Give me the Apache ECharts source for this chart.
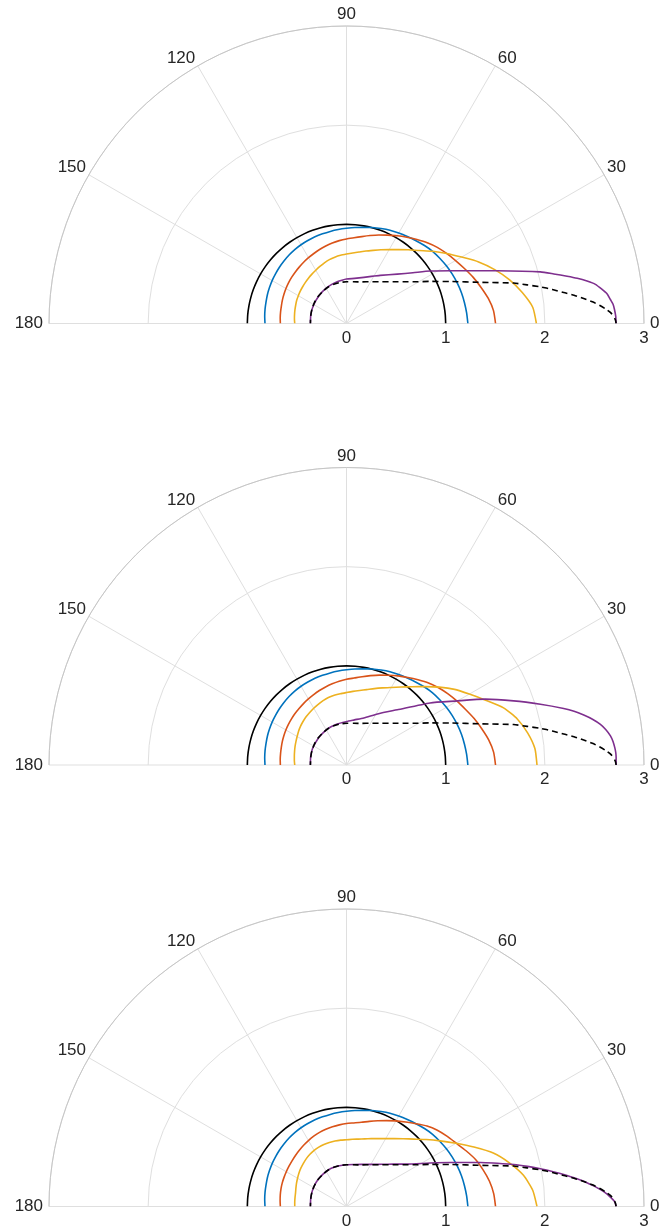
<!DOCTYPE html>
<html><head><meta charset="utf-8">
<script src="https://cdn.jsdelivr.net/npm/echarts@6/dist/echarts.min.js"></script>
<style>html,body{margin:0;padding:0;background:#fff}#c{width:672px;height:1228px}</style>
</head><body><div id="c"></div>
<script>
// ---- data (angle in degrees, radius) ----
const angleTickLabels = [0, 30, 60, 90, 120, 150, 180];
const radiusTickLabels = [0, 1, 2, 3];

// angles (every 5 degrees) shared by the smooth curves
const curveAngles = [0,5,10,15,20,25,30,35,40,45,50,55,60,65,70,75,80,85,90,95,100,105,110,115,120,125,130,135,140,145,150,155,160,165,170,175,180];

const blackR = [1,1,1,1,1,1,1,1,1,1,1,1,1,1,1,1,1,1,1,1,1,1,1,1,1,1,1,1,1,1,1,1,1,1,1,1,1];
const blueR  = [1.224,1.216,1.208,1.2,1.189,1.177,1.163,1.148,1.133,1.112,1.09,1.07,1.053,1.037,1.019,1.002,0.984,0.972,0.96,0.951,0.943,0.936,0.93,0.923,0.917,0.91,0.901,0.892,0.883,0.874,0.866,0.857,0.849,0.84,0.834,0.828,0.822];

const p1OrangeR = [1.503,1.488,1.452,1.405,1.36,1.312,1.27,1.232,1.195,1.152,1.105,1.062,1.022,0.983,0.95,0.918,0.89,0.868,0.853,0.839,0.825,0.809,0.794,0.779,0.766,0.754,0.742,0.732,0.723,0.714,0.705,0.696,0.688,0.68,0.675,0.671,0.667];
const p2OrangeR = [1.503,1.489,1.456,1.412,1.37,1.325,1.287,1.25,1.212,1.17,1.122,1.078,1.038,0.999,0.965,0.933,0.904,0.88,0.864,0.848,0.831,0.815,0.799,0.783,0.769,0.756,0.744,0.734,0.724,0.715,0.706,0.697,0.689,0.681,0.675,0.671,0.667];
const p3OrangeR = [1.503,1.49,1.464,1.426,1.385,1.33,1.277,1.236,1.196,1.148,1.09,1.04,0.997,0.955,0.92,0.889,0.862,0.846,0.837,0.826,0.816,0.806,0.795,0.782,0.768,0.754,0.74,0.728,0.717,0.708,0.701,0.695,0.69,0.684,0.678,0.672,0.667];

const p1YellowR = [1.915,1.885,1.80,1.703,1.59,1.47,1.34,1.232,1.133,1.04,0.97,0.909,0.86,0.82,0.785,0.757,0.732,0.714,0.70,0.69,0.679,0.667,0.651,0.635,0.62,0.608,0.597,0.586,0.577,0.569,0.561,0.554,0.545,0.538,0.532,0.527,0.522];
const p2YellowR = [1.921,1.907,1.856,1.785,1.685,1.547,1.43,1.33,1.222,1.118,1.03,0.96,0.903,0.858,0.82,0.787,0.763,0.745,0.731,0.722,0.714,0.705,0.69,0.675,0.661,0.647,0.634,0.62,0.606,0.591,0.575,0.562,0.552,0.542,0.534,0.528,0.522];
const p3YellowR = [1.921,1.885,1.812,1.70,1.575,1.418,1.275,1.153,1.05,0.961,0.892,0.836,0.79,0.756,0.728,0.706,0.69,0.68,0.673,0.672,0.671,0.669,0.666,0.661,0.653,0.643,0.63,0.615,0.601,0.586,0.57,0.556,0.543,0.532,0.527,0.524,0.522];

// curves with a sharp turn near 0 degrees: [angle, radius] pairs
const p1Purple = [[0,2.719],[1.5,2.716],[3,2.706],[4.13,2.695],[5.2,2.672],[6.51,2.644],[7.6,2.60],[8.94,2.541],[10,2.463],[11.09,2.371],[12.1,2.275],[13.45,2.149],[14.9,2.023],[19.3,1.608],[26.9,1.177],[32.1,0.995],[37.4,0.843],[44.2,0.714],[55,0.592],[62.2,0.537],[69.4,0.497],[80,0.462],[90,0.448],[96,0.439],[102.6,0.431],[110,0.422],[118.2,0.413],[128,0.402],[137.8,0.391],[147,0.383],[157.3,0.376],[168,0.369],[180,0.364]];
const p2Purple = [[0,2.719],[1.6,2.72],[2.66,2.718],[3.7,2.711],[5.04,2.698],[6.3,2.678],[7.75,2.64],[9.1,2.593],[10.55,2.523],[11.9,2.445],[13.31,2.358],[14.6,2.263],[17.4,2.049],[21,1.805],[25.4,1.548],[30.5,1.27],[36.6,1.05],[47.4,0.756],[58,0.61],[69.8,0.506],[80,0.462],[90,0.438],[102.8,0.425],[112,0.416],[121.4,0.407],[130,0.397],[139.5,0.389],[148,0.383],[156.3,0.379],[168,0.37],[180,0.364]];
const p3Purple = [[0,2.719],[0.6,2.712],[1.2,2.70],[2.0,2.664],[2.85,2.625],[3.8,2.567],[4.9,2.49],[6.1,2.406],[7.2,2.313],[8.4,2.214],[9.65,2.104],[11,1.992],[12.5,1.87],[14.1,1.738],[18.2,1.42],[22.9,1.14],[27.5,0.95],[35,0.745],[42,0.638],[50,0.556],[60,0.49],[70,0.452],[80,0.43],[90,0.421],[100,0.418],[108,0.415],[116,0.412],[126,0.403],[137,0.395],[147,0.386],[157,0.378],[168,0.369],[180,0.364]];
const refDashed = [[0,2.719],[0.9,2.71],[2.3,2.668],[3.17,2.62],[4.0,2.566],[5.03,2.489],[6.0,2.405],[7.08,2.312],[8.1,2.212],[9.41,2.103],[10.7,1.99],[12.07,1.862],[13.6,1.734],[17,1.42],[22,1.13],[27,0.935],[31,0.817],[35,0.734],[42,0.629],[50,0.549],[60,0.486],[70,0.447],[80,0.427],[90,0.421],[100,0.418],[108,0.415],[116,0.412],[126,0.403],[137,0.395],[147,0.386],[157,0.378],[168,0.369],[180,0.364]];

const panels = [
  {cy: 323.5,  orange: p1OrangeR, yellow: p1YellowR, purple: p1Purple},
  {cy: 765,    orange: p2OrangeR, yellow: p2YellowR, purple: p2Purple},
  {cy: 1206.5, orange: p3OrangeR, yellow: p3YellowR, purple: p3Purple}
];

// ---- build chart ----
const FONT = 'Liberation Sans, Arial, Helvetica, sans-serif';
const TXT = '#262626';
const fromR = rs => curveAngles.map((a, k) => [rs[k], a]);
const fromPairs = c => c.map(([a, r]) => [r, a]);
const lbl = {color: TXT, fontSize: 17, fontFamily: FONT};

const polar = [], angleAxis = [], radiusAxis = [], series = [];
panels.forEach((p, i) => {
  polar.push({center: [346.5, p.cy], radius: 297.5});
  angleAxis.push({
    polarIndex: i, type: 'value',
    min: angleTickLabels[0], max: angleTickLabels[angleTickLabels.length - 1], interval: 30,
    startAngle: 0, endAngle: 180, clockwise: false,
    axisLine: {show: true, lineStyle: {color: '#c6c6c6', width: 1}},
    axisTick: {show: false},
    axisLabel: Object.assign({
      margin: 1,
      formatter: v => (v === 0 || v === 180) ? '{h|' + v + '}' : (v === 90 ? '{t|' + v + '}' : '{d|' + v + '}'),
      rich: {
        h: Object.assign({padding: [0, 5, 0, 5]}, lbl),
        t: Object.assign({padding: [0, 0, 2, 0]}, lbl),
        d: Object.assign({padding: [0, 2, 0, 2], lineHeight: 13}, lbl)
      }
    }, lbl),
    splitLine: {show: true, lineStyle: {color: '#dfdfdf', width: 1}}
  });
  radiusAxis.push({
    polarIndex: i, type: 'value',
    min: radiusTickLabels[0], max: radiusTickLabels[radiusTickLabels.length - 1], interval: 1,
    axisLine: {show: false}, axisTick: {show: false},
    axisLabel: Object.assign({margin: -6, verticalAlign: 'top', align: 'center'}, lbl),
    splitLine: {show: true, lineStyle: {color: '#dfdfdf', width: 1}}
  });
  const mk = (data, color, dashed) => ({
    type: 'line', coordinateSystem: 'polar', polarIndex: i,
    data, showSymbol: false, symbol: 'none', smooth: 0.2, animation: false,
    lineStyle: {color, width: 1.6, type: dashed ? [6, 4] : 'solid', join: 'round'},
    z: 3
  });
  series.push(mk(fromR(blackR), '#000000'));
  series.push(mk(fromR(blueR), '#0072BD'));
  series.push(mk(fromR(p.orange), '#D95319'));
  series.push(mk(fromR(p.yellow), '#EDB120'));
  series.push(mk(fromPairs(p.purple), '#7E2F8E'));
  series.push(mk(fromPairs(refDashed), '#000000', true));
});

const chart = echarts.init(document.getElementById('c'), null, {renderer: 'canvas'});
chart.setOption({animation: false, backgroundColor: '#ffffff', polar, angleAxis, radiusAxis, series});
</script>
</body></html>
